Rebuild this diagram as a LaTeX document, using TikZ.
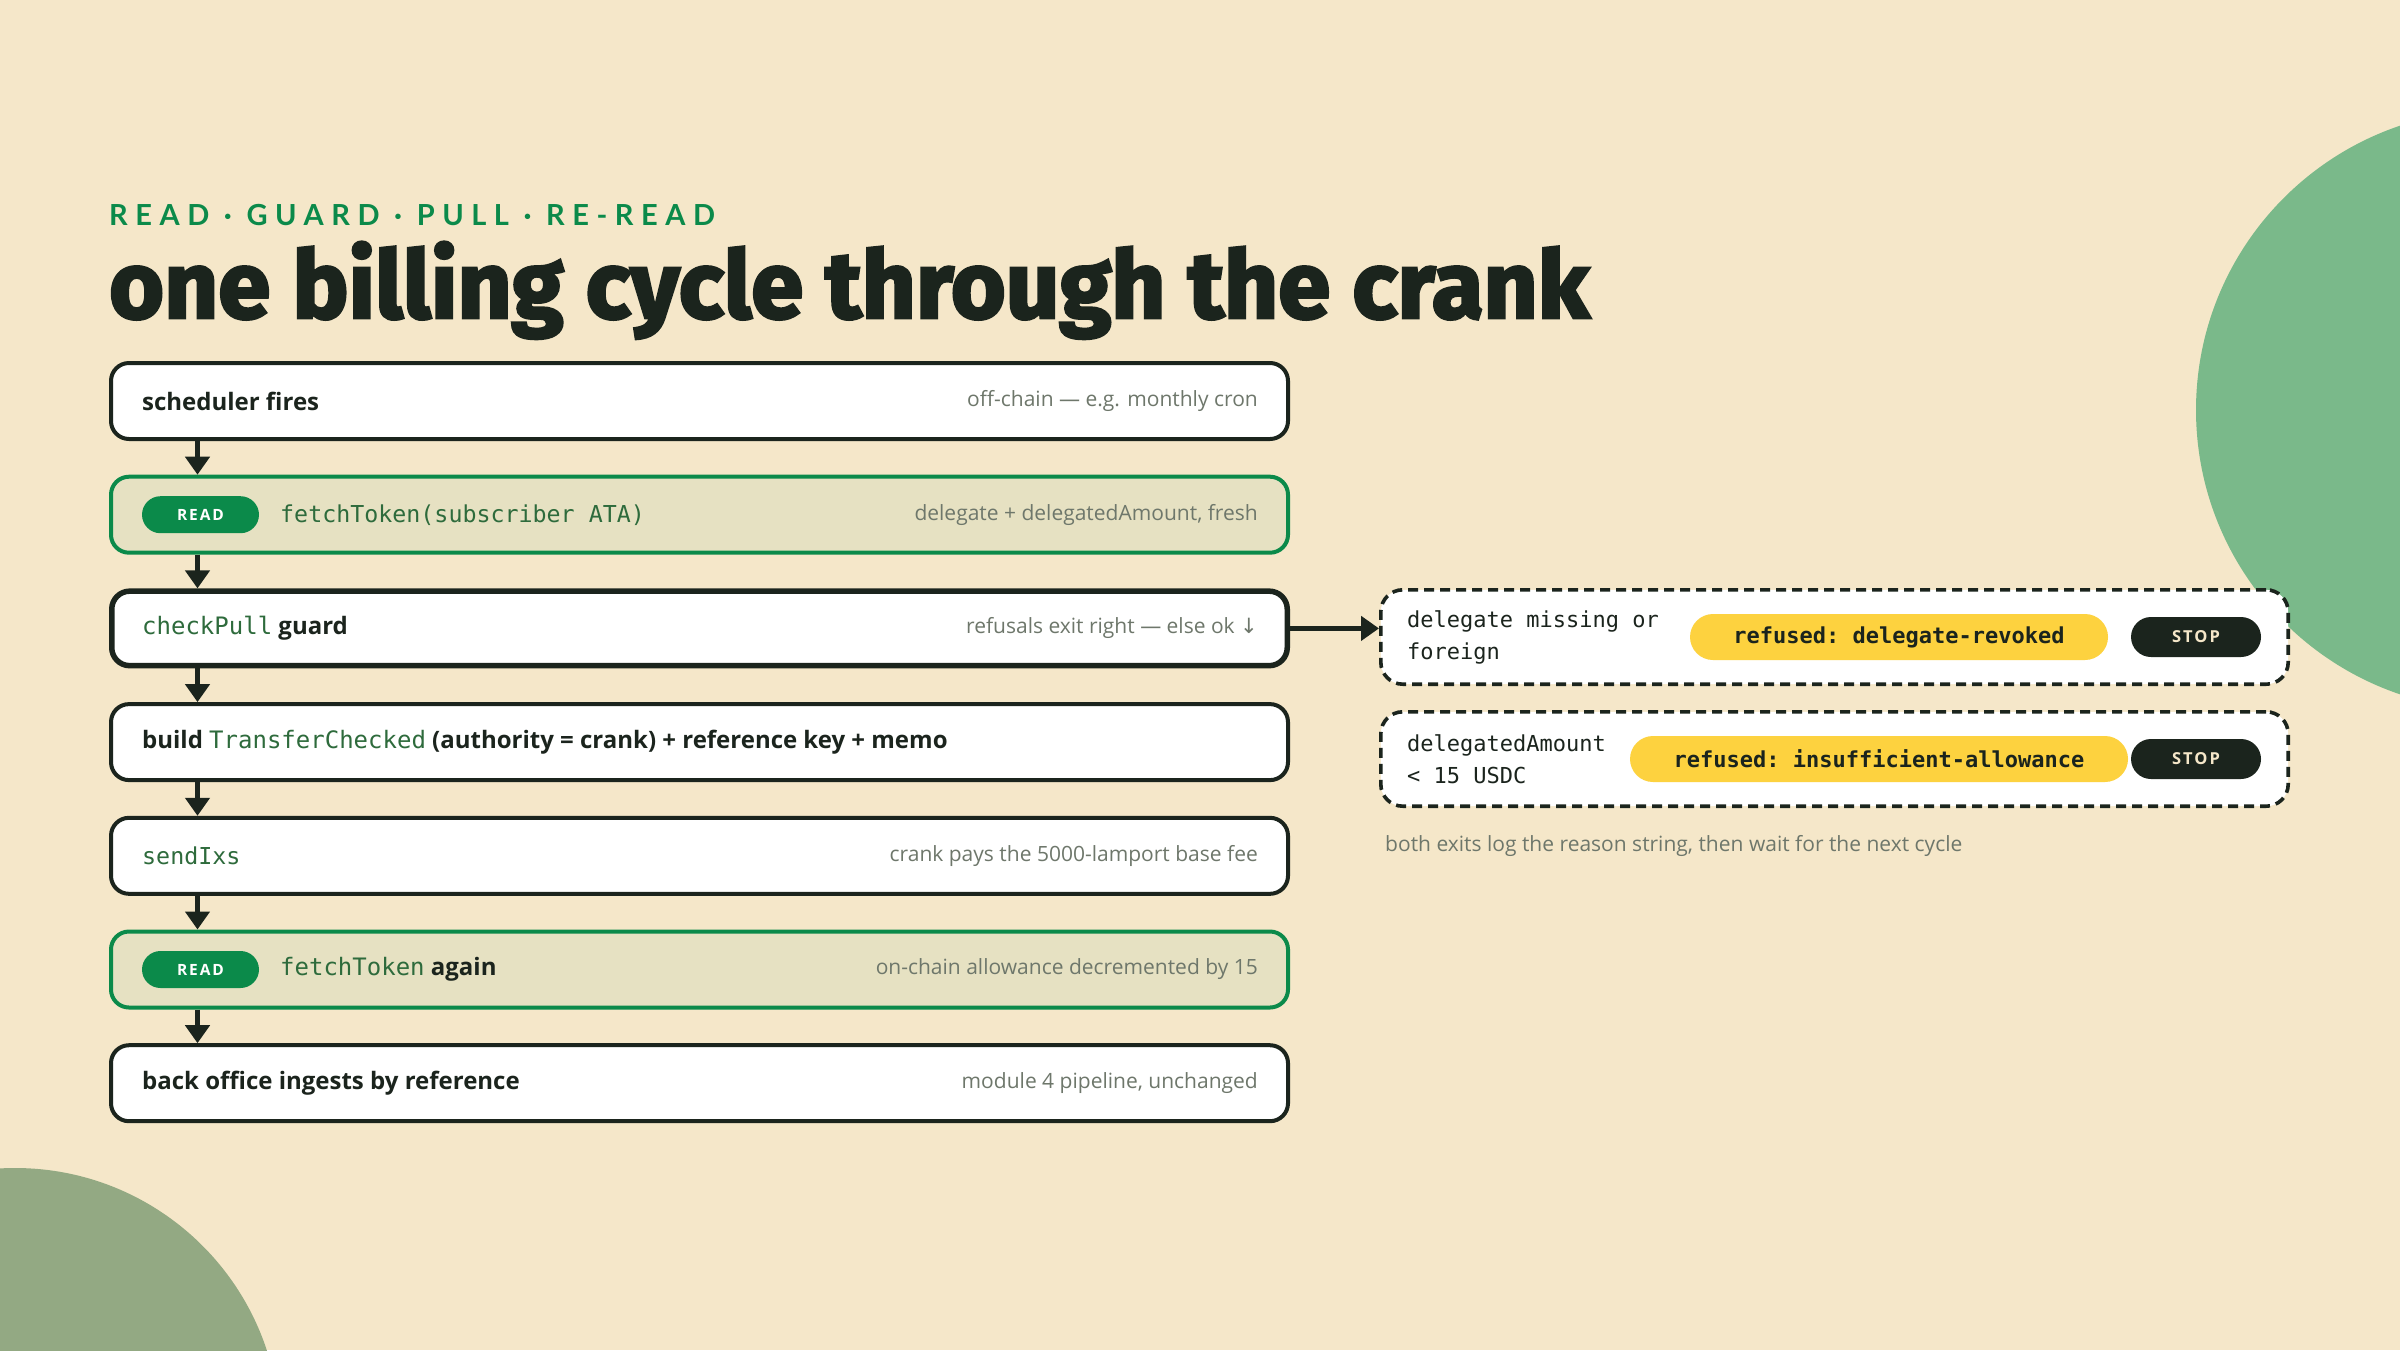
\documentclass[tikz,border=0pt]{standalone}
\usepackage{fontspec}
\usepackage{xcolor}
\usetikzlibrary{positioning, arrows.meta}
\setmainfont{Open Sans}
\setmonofont{DejaVu Sans Mono}
\newfontfamily\titlefont{Fira Sans}[BoldFeatures={FakeBold=3}]
\newfontfamily\kickerfont{Lato}
\newfontfamily\arrowfont{DejaVu Sans}

\definecolor{cream}{HTML}{F5E7C9}
\definecolor{ink}{HTML}{1B241D}
\definecolor{leaf}{HTML}{0B8A4A}
\definecolor{readfill}{HTML}{E6E1C2}
\definecolor{muted}{HTML}{6E776B}
\definecolor{codegreen}{HTML}{2E6B3C}
\definecolor{sun}{HTML}{FDD23F}
\definecolor{blobright}{HTML}{7AB98A}
\definecolor{blobleft}{HTML}{93A983}

\newcommand{\code}[1]{{\ttfamily\mdseries\color{codegreen}#1}}

\begin{document}
\begin{tikzpicture}[x=1pt, y=-1pt,
    stepbox/.style={draw=ink, line width=4pt, fill=white, rounded corners=18pt,
        minimum width=1177pt, minimum height=76pt, anchor=north west, inner sep=0pt},
    readbox/.style={stepbox, draw=leaf, fill=readfill},
    guardbox/.style={stepbox, line width=5.5pt, minimum width=1175.5pt, minimum height=74.5pt},
    steptext/.style={anchor=west, inner sep=0pt, text=ink, font=\bfseries\fontsize{24}{30}\selectfont},
    notetext/.style={anchor=east, inner sep=0pt, text=muted, font=\fontsize{21}{25}\selectfont},
    readpill/.style={anchor=west, fill=leaf, text=white, rounded corners=18.5pt, minimum width=117pt,
        minimum height=37pt, inner sep=0pt, outer sep=0pt,
        font=\bfseries\fontsize{15.5}{16}\selectfont\addfontfeatures{LetterSpace=12}},
    codetext/.style={anchor=west, inner sep=0pt, text=codegreen, font=\ttfamily\fontsize{23.3}{28}\selectfont},
    exitbox/.style={draw=ink, dashed, dash pattern=on 10pt off 6pt, line width=3.6pt, fill=white,
        rounded corners=22pt, minimum width=907.4pt, minimum height=94.4pt, anchor=north west},
    exittext/.style={anchor=west, align=left, inner sep=0pt, text=ink, font=\ttfamily\fontsize{22}{32}\selectfont},
    refusal/.style={fill=sun, text=ink, rounded corners=23pt, minimum height=46pt, inner sep=0pt,
        outer sep=0pt, font=\ttfamily\bfseries\fontsize{22}{26}\selectfont},
    stoppill/.style={fill=ink, text=cream, rounded corners=20pt, minimum width=130pt, minimum height=40pt,
        inner sep=0pt, outer sep=0pt, font=\bfseries\fontsize{16.5}{17}\selectfont\addfontfeatures{LetterSpace=12}},
    flow/.style={draw=ink, line width=5pt, -{Triangle[length=18pt, width=24pt]}}
]
    % Background and corner blobs
    \useasboundingbox (0,0) rectangle (2400,1350);
    \fill[cream] (0,0) rectangle (2400,1350);
    \fill[blobright] (2496,410) circle (300pt);
    \fill[blobleft] (15,1433) circle (265pt);

    % Heading
    \node[anchor=base west, inner sep=0pt, text=leaf,
        font=\kickerfont\bfseries\fontsize{29}{29}\selectfont\addfontfeatures{LetterSpace=26}] (kicker) at (109,225)
        {READ · GUARD · PULL · RE-READ};
    \node[anchor=base west, inner sep=0pt, text=ink,
        font=\titlefont\bfseries\fontsize{94}{94}\selectfont] (title) at (109,318)
        {one billing cycle through the crank};

    % Steps of the cycle
    \node[stepbox] (sched) at (109,361) {};
    \node[steptext] at ([xshift=33pt]sched.west) {scheduler fires};
    \node[notetext] at ([xshift=-32pt]sched.east) {off-chain — e.g. monthly cron};

    \node[readbox] (fetch) at (109,474.7) {};
    \node[readpill] (fetchtag) at ([xshift=33pt]fetch.west) {READ};
    \node[codetext] at ([xshift=21pt]fetchtag.east) {fetchToken(subscriber ATA)};
    \node[notetext] at ([xshift=-32pt]fetch.east) {delegate + delegatedAmount, fresh};

    \node[guardbox] (guard) at (109,588.4) {};
    \node[steptext] at ([xshift=33pt]guard.west) {\code{checkPull} guard};
    \node[notetext] at ([xshift=-32pt]guard.east) {refusals exit right — else ok {\arrowfont ↓}};

    \node[stepbox] (build) at (109,702.1) {};
    \node[steptext] at ([xshift=33pt]build.west)
        {build \code{TransferChecked} (authority = crank) + reference key + memo};

    \node[stepbox] (send) at (109,815.8) {};
    \node[codetext] at ([xshift=33pt]send.west) {sendIxs};
    \node[notetext] at ([xshift=-32pt]send.east) {crank pays the 5000-lamport base fee};

    \node[readbox] (refetch) at (109,929.5) {};
    \node[readpill] (refetchtag) at ([xshift=33pt]refetch.west) {READ};
    \node[steptext] at ([xshift=21pt]refetchtag.east) {\code{fetchToken} again};
    \node[notetext] at ([xshift=-32pt]refetch.east) {on-chain allowance decremented by 15};

    \node[stepbox] (ingest) at (109,1043.2) {};
    \node[steptext] at ([xshift=33pt]ingest.west) {back office ingests by reference};
    \node[notetext] at ([xshift=-32pt]ingest.east) {module 4 pipeline, unchanged};

    % Down arrows
    \draw[flow] ([xshift=88.5pt]sched.south west) -- ([xshift=88.5pt]fetch.north west);
    \draw[flow] ([xshift=88.5pt]fetch.south west) -- ([xshift=88.5pt]guard.north west);
    \draw[flow] ([xshift=88.5pt]guard.south west) -- ([xshift=88.5pt]build.north west);
    \draw[flow] ([xshift=88.5pt]build.south west) -- ([xshift=88.5pt]send.north west);
    \draw[flow] ([xshift=88.5pt]send.south west) -- ([xshift=88.5pt]refetch.north west);
    \draw[flow] ([xshift=88.5pt]refetch.south west) -- ([xshift=88.5pt]ingest.north west);

    % Refusal exits
    \node[exitbox] (revoked) at (1379,588) {};
    \node[exittext] at ([xshift=28pt]revoked.west) {delegate missing or\\foreign};
    \node[stoppill, anchor=east] (revokedstop) at ([xshift=-29pt]revoked.east) {STOP};
    \node[refusal, minimum width=418pt, left=23pt of revokedstop] (revokedtag) {refused: delegate-revoked};

    \node[exitbox] (allowance) at (1379,710) {};
    \node[exittext] at ([xshift=28pt]allowance.west) {delegatedAmount\\< 15 USDC};
    \node[stoppill, anchor=east] (allowancestop) at ([xshift=-29pt]allowance.east) {STOP};
    \node[refusal, minimum width=498pt, left=3pt of allowancestop] (allowancetag) {refused: insufficient-allowance};

    \draw[flow] (guard.east) -- (guard.east -| revoked.west);

    \node[anchor=west, inner sep=0pt, text=muted, font=\fontsize{21}{25}\selectfont] (exitnote) at (1385,846)
        {both exits log the reason string, then wait for the next cycle};
\end{tikzpicture}
\end{document}
